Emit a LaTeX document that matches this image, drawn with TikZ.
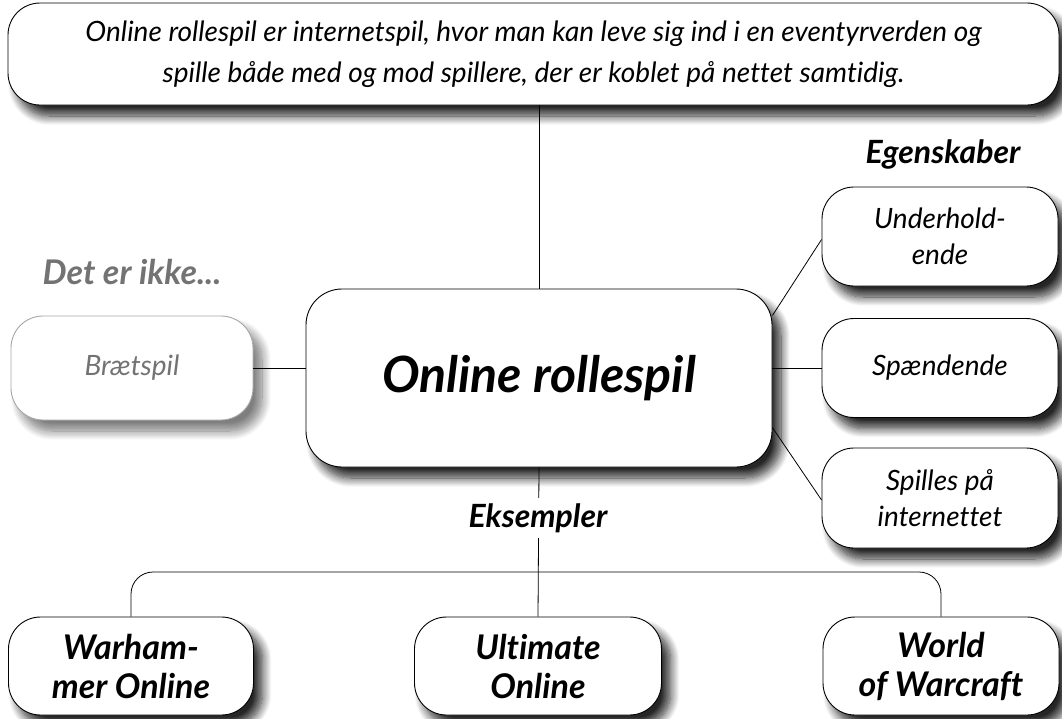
\documentclass[tikz,border=0pt]{standalone}
\usepackage{fontspec}
\setmainfont{Lato}[Ligatures={NoCommon,NoRare}]
\usetikzlibrary{shadows.blur,calc}
\tikzset{
  sh/.style={blur shadow={shadow xshift=9pt, shadow yshift=-11pt, shadow blur radius=9pt, shadow blur steps=12, shadow opacity=85}},
  shlight/.style={blur shadow={shadow xshift=9pt, shadow yshift=-11pt, shadow blur radius=9pt, shadow blur steps=12, shadow opacity=30}},
  bx/.style={draw=black, line width=0.9pt, fill=white, rounded corners=32pt, align=center, inner sep=0pt, sh},
  lighttxt/.style={font=\fontsize{28}{36}\selectfont\itshape},
  boldtxt/.style={font=\fontsize{34}{39}\selectfont\bfseries\itshape},
  conn/.style={draw=black, line width=0.8pt},
  heading/.style={font=\fontsize{32}{36}\selectfont\bfseries\itshape, inner sep=0pt}
}
\begin{document}
\begin{tikzpicture}[x=1pt,y=-1pt]
\useasboundingbox (0,0) rectangle (1062,718);
% top definition box
\node[bx, font=\fontsize{28}{41}\selectfont\itshape, minimum width=1051pt, minimum height=102pt] (top) at (533.5,54)
  {Online rollespil er internetspil, hvor man kan leve sig ind i en eventyrverden og\\
   spille både med og mod spillere, der er koblet på nettet samtidig.};
% main
\node[bx, rounded corners=36pt, minimum width=466pt, minimum height=178pt,
  font=\fontsize{50}{54}\selectfont\bfseries\itshape] (main) at (539,378) {Online rollespil};
% not
\node[bx, shlight, draw=gray!70, text=black!55, lighttxt, minimum width=242pt, minimum height=104pt] (brat) at (132,368) {Brætspil};
\node[heading, font=\fontsize{34}{36}\selectfont\bfseries\itshape, text=black!55] (not) at (132,272) {Det er ikke...};
% properties
\node[bx, lighttxt, minimum width=236pt, minimum height=99pt] (und) at (940,236.5) {Underhold-\\ende};
\node[bx, lighttxt, minimum width=236pt, minimum height=99pt] (spa) at (940,368) {Spændende};
\node[bx, lighttxt, minimum width=236pt, minimum height=100pt] (spi) at (940,498) {Spilles på\\internettet};
\node[heading] (egen) at (943,154) {Egenskaber};
% examples
\node[bx, boldtxt, minimum width=245pt, minimum height=98pt] (war) at (131,666) {Warham-\\mer Online};
\node[bx, boldtxt, minimum width=247pt, minimum height=98pt] (ult) at (538,666) {Ultimate\\Online};
\node[bx, boldtxt, minimum width=236pt, minimum height=98pt] (wow) at (941,666) {World\\of Warcraft};
% connectors
\draw[conn] (main.north) -- (main.north |- top.south);
\draw[conn] (brat.east) -- (brat.east -| main.west);
\draw[conn] (spa.west) -- (spa.west -| main.east);
\draw[conn] (main.15) -- ($(und.west)+(0,3)$);
\draw[conn] (main.-12) -- ($(spi.west)+(0,2)$);
\draw[conn] (main.south) -- (ult.north);
\coordinate (brk) at (0,572);
\draw[conn, rounded corners=22pt] (war.north) -- (war.north |- brk) -- (wow.north |- brk) -- (wow.north);
\node[heading, fill=white, inner sep=5pt] (eks) at (538,518) {Eksempler};
\end{tikzpicture}
\end{document}
